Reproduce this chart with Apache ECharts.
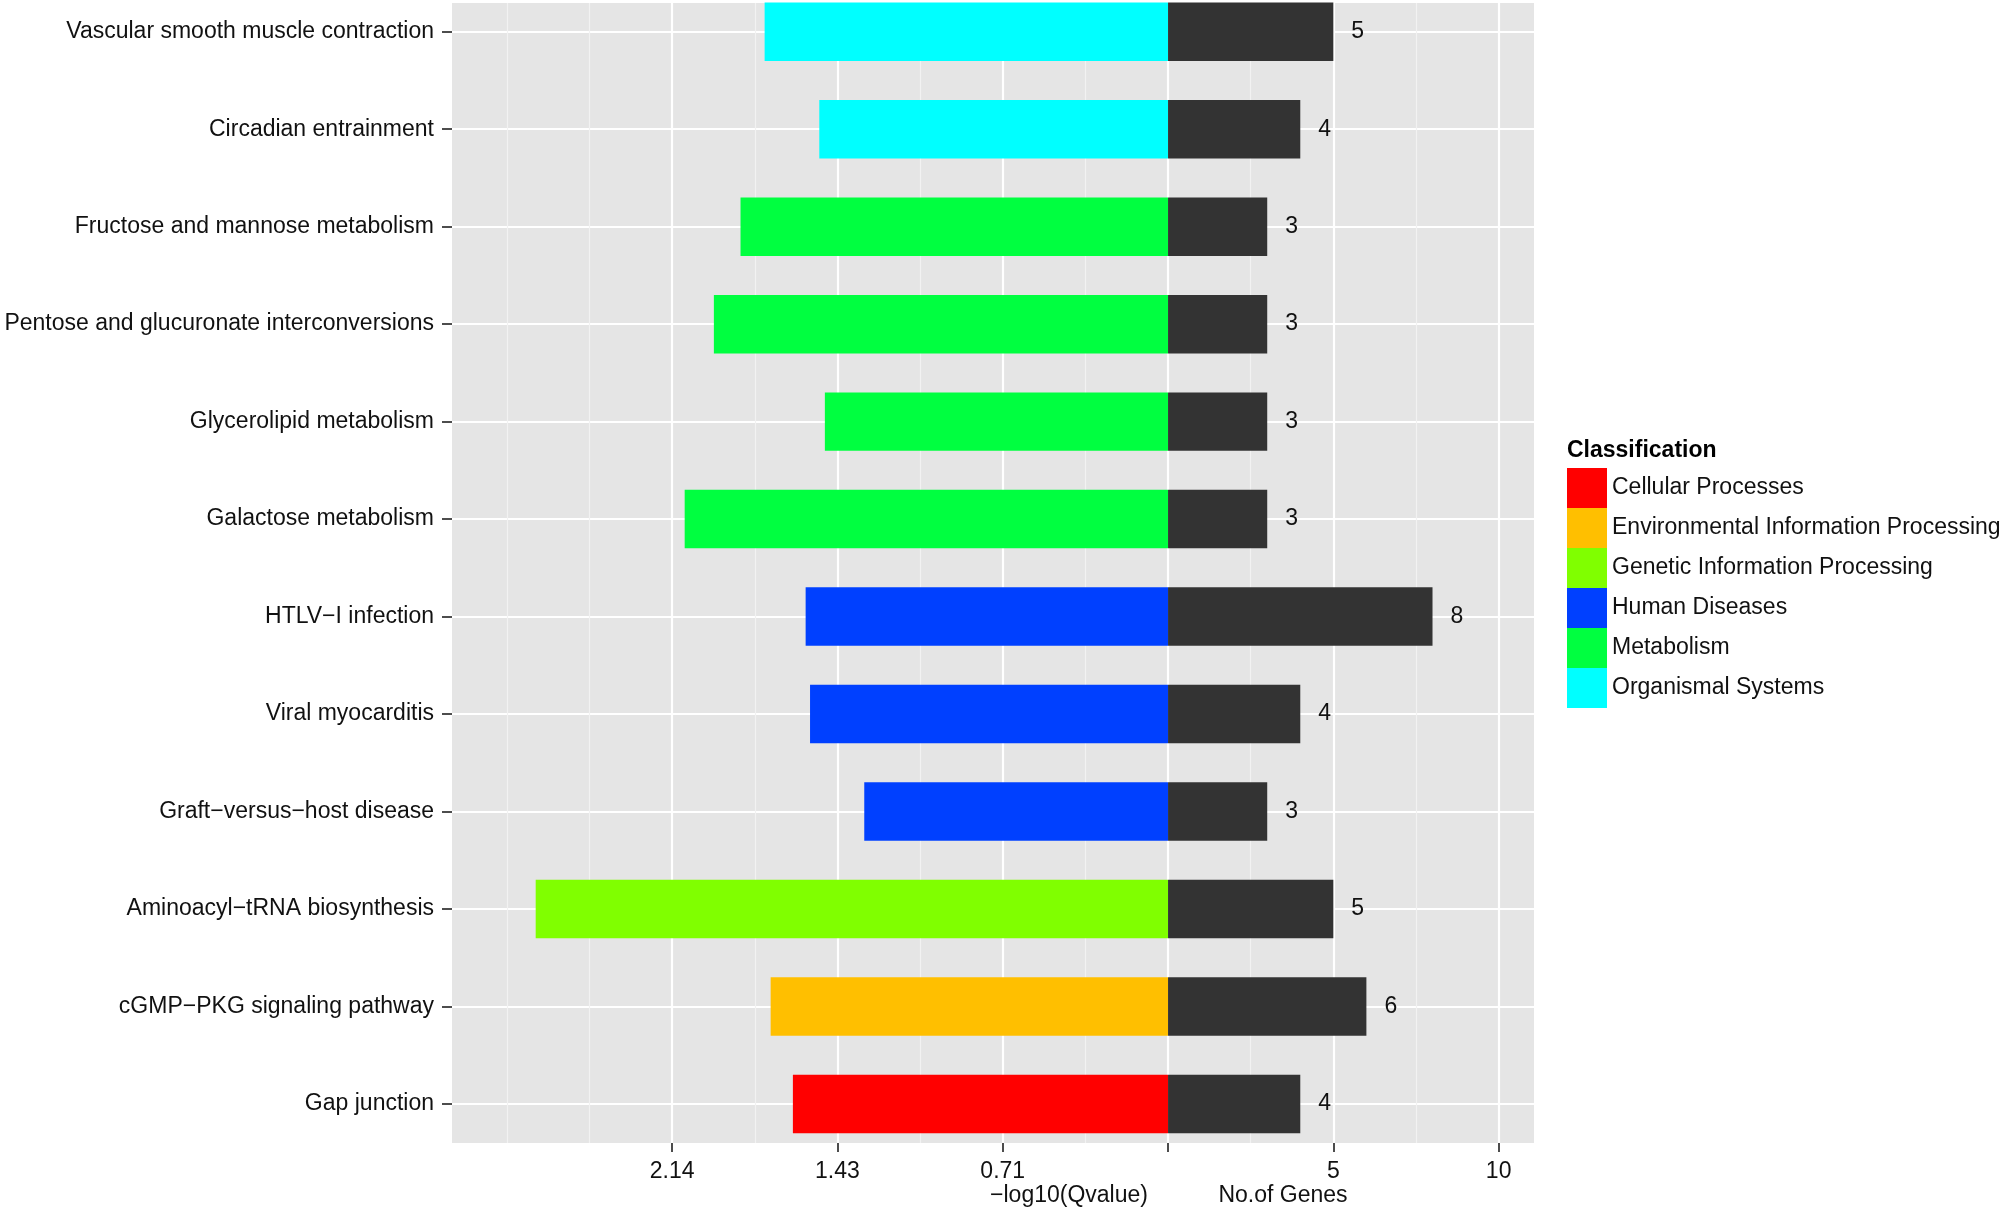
<!DOCTYPE html>
<html>
<head>
<meta charset="utf-8">
<script src="https://cdn.jsdelivr.net/npm/echarts@6/dist/echarts.min.js"></script>
<style>
  html, body { margin: 0; padding: 0; background: #ffffff; }
  #chart { width: 2008px; height: 1211px; }
</style>
</head>
<body>
<div id="chart"></div>
<script>
// ---- data (top to bottom) ----
const pathways = [
  'Vascular smooth muscle contraction',
  'Circadian entrainment',
  'Fructose and mannose metabolism',
  'Pentose and glucuronate interconversions',
  'Glycerolipid metabolism',
  'Galactose metabolism',
  'HTLV\u2212I infection',
  'Viral myocarditis',
  'Graft\u2212versus\u2212host disease',
  'Aminoacyl\u2212tRNA biosynthesis',
  'cGMP\u2212PKG signaling pathway',
  'Gap junction'
];
const classOfPathway = [
  'Organismal Systems', 'Organismal Systems',
  'Metabolism', 'Metabolism', 'Metabolism', 'Metabolism',
  'Human Diseases', 'Human Diseases', 'Human Diseases',
  'Genetic Information Processing',
  'Environmental Information Processing',
  'Cellular Processes'
];
// -log10(Qvalue)
const negLog10Q = [1.741, 1.505, 1.845, 1.960, 1.481, 2.086, 1.564, 1.545, 1.311, 2.729, 1.715, 1.619];
// number of genes
const geneCounts = [5, 4, 3, 3, 3, 3, 8, 4, 3, 5, 6, 4];

const classNames = [
  'Cellular Processes',
  'Environmental Information Processing',
  'Genetic Information Processing',
  'Human Diseases',
  'Metabolism',
  'Organismal Systems'
];
const classColors = ['#FF0000', '#FFBF00', '#80FF00', '#0040FF', '#00FF40', '#00FFFF'];

// axis tick labels: left side shows -log10(Q), right side shows gene counts
const majorTickPos = [-15, -10, -5, 0, 5, 10];
const majorTickLabels = ['2.14', '1.43', '0.71', '', '5', '10'];
const minorTickPos = [-20, -17.5, -12.5, -7.5, -2.5, 2.5, 7.5];
// one -log10(Q) unit in gene-axis units (2.14 sits at the 15 mark)
const Q_TO_AXIS = 15 / 2.14;

const FONT = "'Liberation Sans', Arial, sans-serif";
const BAR_H = 0.6;

function barRect(api, xVal, yVal) {
  const p0 = api.coord([0, yVal]);
  const p1 = api.coord([xVal, yVal]);
  const h = api.size([0, BAR_H])[1];
  return {
    x: Math.min(p0[0], p1[0]),
    y: p0[1] - h / 2,
    width: Math.abs(p1[0] - p0[0]),
    height: h
  };
}

const series = classNames.map((cn, ci) => {
  const data = [];
  pathways.forEach((p, i) => {
    if (classOfPathway[i] === cn) data.push([-negLog10Q[i] * Q_TO_AXIS, i]);
  });
  return {
    name: cn,
    type: 'custom',
    xAxisIndex: 0,
    yAxisIndex: 0,
    encode: { x: 0, y: 1 },
    itemStyle: { color: classColors[ci] },
    data: data,
    renderItem: function (params, api) {
      return {
        type: 'rect',
        shape: barRect(api, api.value(0), api.value(1)),
        style: { fill: classColors[ci] }
      };
    }
  };
});

series.push({
  name: 'No.of Genes',
  type: 'custom',
  xAxisIndex: 0,
  yAxisIndex: 0,
  encode: { x: 0, y: 1 },
  itemStyle: { color: '#333333' },
  data: geneCounts.map((g, i) => [g, i]),
  renderItem: function (params, api) {
    return {
      type: 'rect',
      shape: barRect(api, api.value(0), api.value(1)),
      style: { fill: '#333333' },
      textContent: {
        style: {
          text: String(api.value(0)),
          fontSize: 23,
          fontFamily: FONT,
          fill: '#111111'
        }
      },
      textConfig: { position: 'right', distance: 18 }
    };
  }
});

const chart = echarts.init(document.getElementById('chart'), null, { renderer: 'canvas' });
chart.setOption({
  animation: false,
  backgroundColor: '#ffffff',
  textStyle: { fontFamily: FONT },
  title: {
    text: 'Classification',
    left: 1567,
    top: 439,
    padding: 0,
    textStyle: { fontSize: 23, fontWeight: 'bold', color: '#000000', fontFamily: FONT }
  },
  legend: {
    orient: 'vertical',
    left: 1567,
    top: 468,
    padding: 0,
    itemGap: 0,
    itemWidth: 40,
    itemHeight: 40,
    icon: 'rect',
    selectedMode: false,
    data: classNames,
    textStyle: { fontSize: 23, color: '#111111', fontFamily: FONT }
  },
  grid: {
    left: 452,
    right: 474,
    top: 3,
    bottom: 68,
    show: true,
    backgroundColor: '#E5E5E5',
    borderWidth: 0
  },
  xAxis: [
    {
      type: 'value',
      position: 'bottom',
      min: -21.66,
      max: 11.07,
      axisLine: { show: false, onZero: false },
      axisTick: {
        show: true,
        length: 9,
        customValues: majorTickPos,
        lineStyle: { color: '#4d4d4d', width: 2 }
      },
      axisLabel: {
        show: true,
        customValues: majorTickPos,
        margin: 17,
        fontSize: 23,
        color: '#111111',
        fontFamily: FONT,
        formatter: function (v) {
          const k = majorTickPos.indexOf(v);
          return k >= 0 ? majorTickLabels[k] : '';
        }
      },
      splitLine: { show: true, lineStyle: { color: '#FFFFFF', width: 2.2 } }
    },
    {
      type: 'value',
      position: 'top',
      min: -21.66,
      max: 11.07,
      axisLine: { show: false, onZero: false },
      axisTick: { show: false, customValues: minorTickPos },
      axisLabel: { show: false },
      splitLine: { show: true, lineStyle: { color: '#F2F2F2', width: 1.2 } }
    }
  ],
  yAxis: {
    type: 'value',
    inverse: true,
    min: -0.2944,
    max: 11.40,
    axisLine: { show: false, onZero: false },
    axisTick: {
      show: true,
      length: 10,
      customValues: pathways.map((p, i) => i),
      lineStyle: { color: '#4d4d4d', width: 2 }
    },
    axisLabel: {
      show: true,
      customValues: pathways.map((p, i) => i),
      margin: 18,
      fontSize: 23,
      color: '#111111',
      fontFamily: FONT,
      formatter: function (v) { return pathways[Math.round(v)] || ''; }
    },
    splitLine: { show: true, lineStyle: { color: '#FFFFFF', width: 2.2 } }
  },
  graphic: [
    {
      type: 'text',
      x: 1069, y: 1196,
      style: { text: '\u2212log10(Qvalue)', fontSize: 23, fontFamily: FONT, fill: '#111111', align: 'center', verticalAlign: 'middle' }
    },
    {
      type: 'text',
      x: 1283, y: 1196,
      style: { text: 'No.of Genes', fontSize: 23, fontFamily: FONT, fill: '#111111', align: 'center', verticalAlign: 'middle' }
    }
  ],
  series: series
});
</script>
</body>
</html>
